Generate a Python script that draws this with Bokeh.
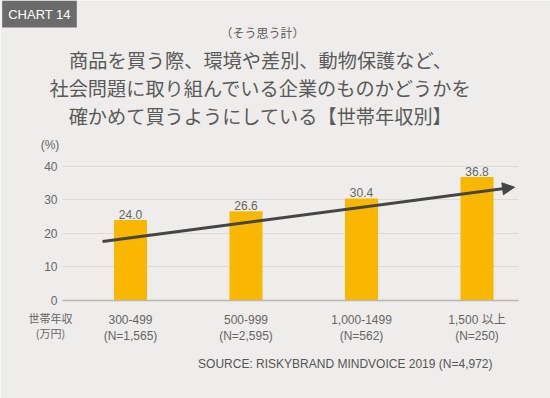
from bokeh.plotting import figure
from bokeh.models import (ColumnDataSource, Label, Arrow, NormalHead, FixedTicker, Range1d,
                          LinearAxis)
from bokeh.core.properties import value
from bokeh.embed import file_html
from bokeh.resources import INLINE

# ---- data ----
categories = ["300-499", "500-999", "1,000-1499", "1,500 以上"]
sample_sizes = ["(N=1,565)", "(N=2,595)", "(N=562)", "(N=250)"]
values = [24.0, 26.6, 30.4, 36.8]
y_ticks = [0, 10, 20, 30, 40]
trend_x = [-0.242, 3.325]
trend_y = [17.6, 33.75]

subtitle = "（そう思う計）"
title_lines = [
    "商品を買う際、環境や差別、動物保護など、",
    "社会問題に取り組んでいる企業のものかどうかを",
    "確かめて買うようにしている【世帯年収別】",
]
source_text = "SOURCE: RISKYBRAND MINDVOICE 2019 (N=4,972)"
badge_text = "CHART 14"
x_caption = ["世帯年収", "(万円)"]
unit_text = "(%)"

BG = "#eeedeb"
BAR = "#f9b700"
TXT = "#666666"
TITLE = "#5a5a5a"
JP = "Noto Sans CJK JP"
LAT = "Liberation Sans, Noto Sans CJK JP"

W, H = 550, 398
# chart scale: category 0 at px 130, 115.5 px per category; value 0 at px 300, 3.357 px per unit
PXU, PX0 = 115.5, 130.0
PYU, PY0 = 3.357, 300.0
def dx(px):
    return (px - PX0) / PXU
def dy(py):
    return (PY0 - py) / PYU

AX_L, AX_R = dx(62), dx(518)   # plotting area bounds

p = figure(width=W, height=H, output_backend="svg", toolbar_location=None,
           x_range=Range1d(dx(0), dx(W)), y_range=Range1d(dy(H), dy(0)),
           x_axis_type=None, y_axis_type=None, min_border=0,
           background_fill_color=BG, border_fill_color=BG, outline_line_color=None)

# y axis: fixed at the left edge of the plotting area; inward ticks act as grid lines
yax = LinearAxis(fixed_location=AX_L, ticker=FixedTicker(ticks=y_ticks), level="underlay")
yax.axis_line_color = None
yax.major_tick_in = int(round((AX_R - AX_L) * PXU))
yax.major_tick_out = 0
yax.major_tick_line_color = "#dbdad8"
yax.major_tick_line_width = 1
yax.minor_tick_line_color = None
yax.major_label_standoff = 5
yax.major_label_text_font = LAT
yax.major_label_text_font_size = "12px"
yax.major_label_text_color = TXT
p.add_layout(yax, "left")

# x axis at value 0
xs = list(range(len(categories)))
xax = LinearAxis(fixed_location=0, ticker=FixedTicker(ticks=xs), bounds=(AX_L, AX_R))
xax.major_label_overrides = {i: f"{c}\n{n}" for i, (c, n) in enumerate(zip(categories, sample_sizes))}
xax.axis_line_color = "#b8b7b5"
xax.axis_line_width = 1.5
xax.major_tick_line_color = None
xax.minor_tick_line_color = None
xax.major_label_standoff = 6
xax.major_label_text_font = LAT
xax.major_label_text_font_size = "12px"
xax.major_label_text_color = TXT
p.add_layout(xax, "below")

src = ColumnDataSource(dict(x=xs, top=values, lab=[f"{v:.1f}" for v in values]))
p.vbar(x="x", top="top", bottom=0, width=0.286, source=src, fill_color=BAR, line_color=None)
p.text(x="x", y="top", text="lab", source=src, text_align="center", text_baseline="bottom",
       y_offset=-1, text_font=value(LAT), text_font_size="12px", text_color=TXT)

p.add_layout(Arrow(end=NormalHead(size=12, fill_color="#454545", line_color="#454545", line_width=1),
                   x_start=trend_x[0], y_start=trend_y[0], x_end=trend_x[1], y_end=trend_y[1],
                   line_color="#454545", line_width=3))

def lab(px, py, text, size, font=LAT, color=TXT, align="center", **kw):
    p.add_layout(Label(x=dx(px), y=dy(py), text=text, text_align=align, text_baseline="middle",
                       text_font=font, text_font_size=size, text_color=color, **kw))

lab(39, 13.5, badge_text, "13px", color="#ffffff", background_fill_color="#6b6b6b", padding=6)
lab(262, 32, subtitle, "12px", font=JP, color=TITLE)
for ty, line in zip([59, 87, 115], title_lines):
    lab(260, ty, line, "19.2px", font=JP, color=TITLE)
lab(49.5, 144, unit_text, "12px")
lab(50, 317, x_caption[0], "11px", font=JP)
lab(50, 332, x_caption[1], "11px", font=JP)
lab(492, 363, source_text, "12px", color="#555555", align="right")

open("out.html", "w").write(file_html(p, INLINE))
